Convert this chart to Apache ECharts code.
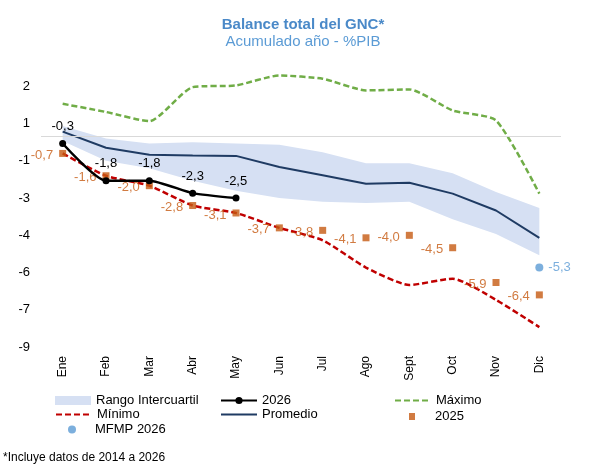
<!DOCTYPE html>
<html>
<head>
<meta charset="utf-8">
<script src="https://cdn.jsdelivr.net/npm/echarts@6/dist/echarts.min.js"></script>
<style>
  html, body { margin: 0; padding: 0; background: #fff; }
  #chart { width: 590px; height: 467px; }
</style>
</head>
<body>
<div id="chart"></div>
<script>
// datos (%PIB, acumulado año)
const meses = ['Ene', 'Feb', 'Mar', 'Abr', 'May', 'Jun', 'Jul', 'Ago', 'Sept', 'Oct', 'Nov', 'Dic'];
const q1 = [-0.2, -1.0, -1.3, -1.8, -2.2, -2.5, -2.65, -2.7, -2.65, -3.35, -3.95, -4.8];
const q3 = [0.4, -0.1, -0.3, -0.25, -0.3, -0.35, -0.65, -1.1, -1.1, -1.5, -2.25, -2.9];
const promedio = [0.18, -0.47, -0.75, -0.78, -0.8, -1.25, -1.58, -1.92, -1.88, -2.32, -3.0, -4.1];
const maximo = [1.3, 0.97, 0.6, 1.97, 2.04, 2.44, 2.31, 1.84, 1.88, 1.03, 0.63, -2.32];
const minimo = [-0.7, -1.6, -2.0, -2.8, -3.1, -3.7, -4.2, -5.3, -6.0, -5.75, -6.6, -7.7];
const anio2026 = [-0.3, -1.8, -1.8, -2.3, -2.5];
const anio2025 = [-0.7, -1.6, -2.0, -2.8, -3.1, -3.7, -3.8, -4.1, -4.0, -4.5, -5.9, -6.4];
const mfmp2026 = [null, null, null, null, null, null, null, null, null, null, null, -5.3];

const FONT = 'Liberation Sans';
const coma = v => v.toFixed(1).replace('.', ',');

const myChart = echarts.init(document.getElementById('chart'));

const lineLegend = (name, left, top, extra) => Object.assign({
  data: [name],
  left: left,
  top: top,
  itemWidth: 36,
  itemHeight: 14,
  textStyle: { fontFamily: FONT, fontSize: 13, color: '#000' },
  selectedMode: false
}, extra || {});

// sin marcador en el icono de la leyenda
const noSymbol = { itemStyle: { color: 'rgba(0,0,0,0)', borderWidth: 0, opacity: 0 } };

const option = {
  animation: false,
  title: {
    text: 'Balance total del GNC*',
    subtext: 'Acumulado año - %PIB',
    left: 298,
    top: 12,
    textAlign: 'center',
    itemGap: 2,
    textStyle: { fontFamily: FONT, fontSize: 15, fontWeight: 'bold', color: '#4a89c8' },
    subtextStyle: { fontFamily: FONT, fontSize: 15, color: '#5b9bd5' }
  },
  grid: {
    left: 41,
    right: 29,
    top: 74,
    bottom: 120
  },
  legend: [
    lineLegend('Rango Intercuartil', 50, 389, {
      data: [{ name: 'Rango Intercuartil', icon: 'rect', itemStyle: { color: '#d6e0f3' } }],
      itemHeight: 9
    }),
    lineLegend('2026', 215, 389, { itemHeight: 9 }),
    lineLegend('Máximo', 389, 389, noSymbol),
    lineLegend('Mínimo', 50, 403, noSymbol),
    lineLegend('Promedio', 215, 403, noSymbol),
    lineLegend('2025', 404, 405, {
      data: [{ name: '2025', icon: 'path://M0,0h6v7h-6z' }],
      itemHeight: 7
    }),
    lineLegend('MFMP 2026', 63, 418, {
      data: [{ name: 'MFMP 2026', icon: 'circle' }],
      itemHeight: 8
    })
  ],
  xAxis: {
    type: 'category',
    data: meses,
    axisLine: { show: false },
    axisTick: { show: false },
    axisLabel: {
      rotate: 90,
      margin: 9,
      fontFamily: FONT,
      fontSize: 12,
      color: '#000'
    }
  },
  yAxis: {
    type: 'value',
    min: -8.5,
    max: 2.5,
    interval: 1.5,
    axisLine: { show: false },
    axisTick: { show: false },
    splitLine: { show: false },
    axisLabel: {
      margin: 11,
      fontFamily: FONT,
      fontSize: 13,
      color: '#000',
      formatter: function (v) {
        const k = (v + 8.5) / 1.5;
        if (Math.abs(k - Math.round(k)) > 1e-6 || v > 2.01) return '';
        // redondeo tipo Excel (lejos de cero)
        return String(Math.sign(v) * Math.round(Math.abs(v)));
      }
    }
  },
  series: [
    {
      name: 'base',
      type: 'line',
      data: q1,
      stack: 'rango',
      stackStrategy: 'all',
      symbol: 'none',
      silent: true,
      lineStyle: { opacity: 0 },
      markLine: {
        silent: true,
        symbol: 'none',
        label: { show: false },
        lineStyle: { color: '#d9d9d9', width: 1, type: 'solid' },
        data: [{ yAxis: 0 }]
      },
      z: 1
    },
    {
      name: 'Rango Intercuartil',
      type: 'line',
      data: q3.map((v, i) => +(v - q1[i]).toFixed(3)),
      stack: 'rango',
      stackStrategy: 'all',
      symbol: 'none',
      silent: true,
      itemStyle: { color: '#d6e0f3' },
      lineStyle: { opacity: 0 },
      areaStyle: { color: '#d6e0f3', opacity: 1 },
      z: 1
    },
    {
      name: 'Máximo',
      type: 'line',
      data: maximo,
      symbol: 'none',
      smooth: 0.2,
      itemStyle: { color: '#70ad47' },
      lineStyle: { color: '#70ad47', width: 2.5, type: [6, 3] },
      z: 2
    },
    {
      name: 'Mínimo',
      type: 'line',
      data: minimo,
      symbol: 'none',
      smooth: 0.2,
      itemStyle: { color: '#c00000' },
      lineStyle: { color: '#c00000', width: 2.5, type: [6, 3] },
      z: 2
    },
    {
      name: 'Promedio',
      type: 'line',
      data: promedio,
      symbol: 'none',
      itemStyle: { color: '#1f3b63' },
      lineStyle: { color: '#1f3b63', width: 2 },
      z: 3
    },
    {
      name: '2025',
      type: 'scatter',
      data: anio2025,
      symbol: 'rect',
      symbolSize: 7,
      itemStyle: { color: '#c55a11' },
      label: {
        show: true,
        position: 'left',
        distance: 6,
        offset: [0, 2],
        fontFamily: FONT,
        fontSize: 13,
        color: '#c55a11',
        formatter: p => coma(p.value)
      },
      z: 4
    },
    {
      name: '2026',
      type: 'line',
      data: anio2026,
      symbol: 'circle',
      symbolSize: 7,
      smooth: 0.2,
      itemStyle: { color: '#000' },
      lineStyle: { color: '#000', width: 2.5 },
      label: {
        show: true,
        position: 'top',
        distance: 7,
        fontFamily: FONT,
        fontSize: 13,
        color: '#000',
        formatter: p => coma(p.value)
      },
      z: 5
    },
    {
      name: 'MFMP 2026',
      type: 'scatter',
      data: mfmp2026,
      symbol: 'circle',
      symbolSize: 8,
      itemStyle: { color: '#5b9bd5' },
      label: {
        show: true,
        position: 'right',
        distance: 5,
        fontFamily: FONT,
        fontSize: 13,
        color: '#5b9bd5',
        formatter: p => coma(p.value)
      },
      z: 5
    }
  ],
  graphic: [
    {
      type: 'text',
      left: 3,
      top: 452,
      style: {
        text: '*Incluye datos de 2014 a 2026',
        fontFamily: FONT,
        fontSize: 12,
        fill: '#000'
      }
    }
  ]
};

myChart.setOption(option);
</script>
</body>
</html>
